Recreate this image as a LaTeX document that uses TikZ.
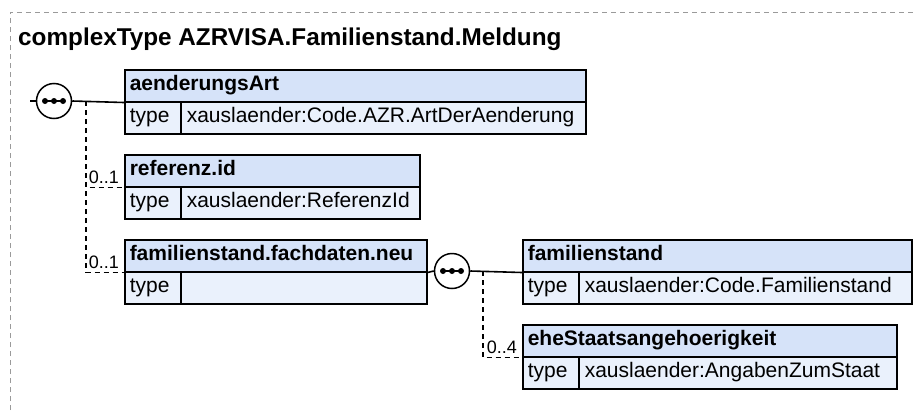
\documentclass[tikz,border=0pt]{standalone}
\usepackage{fontspec}
\setmainfont{Liberation Sans}
\usetikzlibrary{calc}
\definecolor{hdrfill}{HTML}{D6E3F9}
\definecolor{typfill}{HTML}{EAF1FC}
\definecolor{framecol}{HTML}{9A9A9A}
\tikzset{
  cell/.style={draw=black, line width=1.5pt, minimum height=32pt, text height=15pt, text depth=5pt,
    inner ysep=0pt, inner xsep=5pt, anchor=north west, align=left, font=\fontsize{21}{25}\selectfont},
  hdr/.style={cell, fill=hdrfill, font=\fontsize{21}{25}\selectfont\bfseries},
  typ/.style={cell, fill=typfill},
  val/.style={cell, fill=typfill, inner xsep=6pt},
  seq/.style={draw=black, fill=white, circle, line width=1.5pt, minimum size=35pt, inner sep=0pt},
  conn/.style={line width=1.6pt},
  opt/.style={line width=1.6pt, dash pattern=on 5pt off 4pt},
  mult/.style={anchor=base east, inner sep=0pt, font=\fontsize{18}{22}\selectfont},
  framel/.style={draw=framecol, line width=1pt, dash pattern=on 5pt off 4pt},
}
\begin{document}
\begin{tikzpicture}[x=1pt, y=-1pt]
\useasboundingbox (0,0) rectangle (917,410);
\draw[framel] (10,410) -- (10,12) -- (917,12);
\node[anchor=base west, inner sep=0pt, font=\fontsize{24.3}{29}\selectfont\bfseries] (title) at (18,45) {complexType AZRVISA.Familienstand.Meldung};

% box 1
\node[hdr, text width=451pt] (b1h) at (124,69) {aenderungsArt};
\node[typ, text width=46pt] (b1t) at (124,101) {type};
\node[val, text width=393pt] (b1v) at (180,101) {xauslaender:Code.AZR.ArtDerAenderung};
% box 2
\node[hdr, text width=285pt] (b2h) at (124,154) {referenz.id};
\node[typ, text width=46pt] (b2t) at (124,186) {type};
\node[val, text width=227pt] (b2v) at (180,186) {xauslaender:ReferenzId};
% box 3
\node[hdr, text width=292pt] (b3h) at (124,239) {familienstand.fachdaten.neu};
\node[typ, text width=46pt] (b3t) at (124,271) {type};
\node[val, text width=234pt] (b3v) at (180,271) {};
% box 4
\node[hdr, text width=379pt] (b4h) at (522,239) {familienstand};
\node[typ, text width=46pt] (b4t) at (522,271) {type};
\node[val, text width=321pt] (b4v) at (578,271) {xauslaender:Code.Familienstand};
% box 5
\node[hdr, text width=364pt] (b5h) at (522,324) {eheStaatsangehoerigkeit};
\node[typ, text width=46pt] (b5t) at (522,356) {type};
\node[val, text width=306pt] (b5v) at (578,356) {xauslaender:AngabenZumStaat};

% sequence compositors
\coordinate (in0) at (30,101);
\node[seq] (seq1) at (54,101) {};
\node[seq] (seq2) at (452,271) {};
\draw[line width=1.3pt] ($(seq1.center)+(-11,0)$) -- ($(seq1.center)+(11,0)$);
\fill ($(seq1.center)+(-9,0)$) circle (3pt);
\fill (seq1.center) circle (3pt);
\fill ($(seq1.center)+(9,0)$) circle (3pt);
\draw[line width=1.3pt] ($(seq2.center)+(-11,0)$) -- ($(seq2.center)+(11,0)$);
\fill ($(seq2.center)+(-9,0)$) circle (3pt);
\fill (seq2.center) circle (3pt);
\fill ($(seq2.center)+(9,0)$) circle (3pt);

% connectors
\draw[conn] (in0) -- (seq1.west);
\draw[conn] (seq1.east) -- (b1h.south west);
\coordinate (br1) at (86,101);
\draw[opt] (br1) |- (b2h.south west);
\draw[opt] (br1) |- (b3h.south west);
\draw[conn] (b3h.south east) -- (seq2.west);
\draw[conn] (seq2.east) -- (b4h.south west);
\coordinate (br2) at (483,271);
\draw[opt] (br2) |- (b5h.south west);

% multiplicities
\node[mult] (m2) at ($(b2h.south west)+(-5,-4)$) {0..1};
\node[mult] (m3) at ($(b3h.south west)+(-5,-4)$) {0..1};
\node[mult] (m5) at ($(b5h.south west)+(-5,-4)$) {0..4};
\end{tikzpicture}
\end{document}
